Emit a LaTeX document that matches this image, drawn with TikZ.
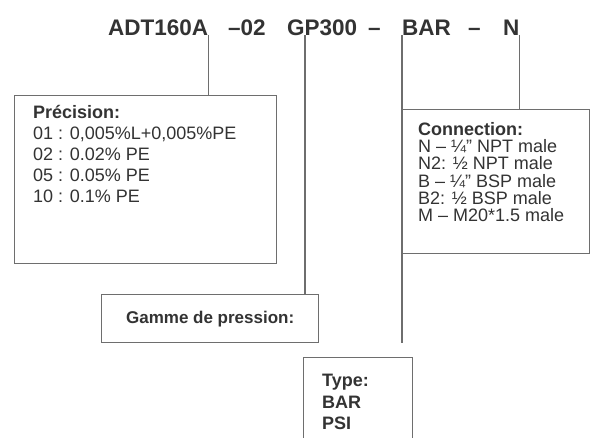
\documentclass[tikz,border=0pt]{standalone}
\usepackage{fontspec}
\setmainfont{Liberation Sans}
\usetikzlibrary{calc}

\definecolor{inkgray}{HTML}{333333}
\definecolor{rulegray}{HTML}{6E6E6E}

\tikzset{
  codepart/.style={anchor=base west, inner sep=0pt, text=inkgray,
    font=\fontsize{22.5}{27}\selectfont\bfseries},
  fieldbox/.style={draw=rulegray, line width=1.4pt, anchor=north west, inner sep=0pt},
  fieldtext/.style={anchor=north west, inner sep=0pt, align=left, text=inkgray},
  lead/.style={draw=rulegray, line width=1.4pt}
}

\begin{document}
\begin{tikzpicture}[x=1pt, y=-1pt]
\useasboundingbox (0,0) rectangle (592,437);
\clip (0,0) rectangle (592,437);
\fill[white] (0,0) rectangle (592,437);

% order code
\node[codepart] (adt) at (108,35) {ADT160A};
\node[codepart] (acc) at (228,35) {–02};
\node[codepart] (gp) at (287,35) {GP300};
\node[codepart] (dasha) at (368,35) {–};
\node[codepart] (bar) at (402,35) {BAR};
\node[codepart] (dashb) at (468,35) {–};
\node[codepart] (conn) at (503,35) {N};

% boxes
\node[fieldbox, minimum width=262pt, minimum height=168pt] (precbox) at (14,95) {};
\node[fieldbox, minimum width=187pt, minimum height=144pt] (connbox) at (402,109) {};
\node[fieldbox, minimum width=217pt, minimum height=48pt] (gammebox) at (101,294) {};
\node[fieldbox, minimum width=109pt, minimum height=100pt] (typebox) at (303,357) {};

\node[fieldtext, font=\fontsize{18}{21}\selectfont] (prectext) at (33,105)
  {\textbf{Précision:}\\01 : 0,005\%L+0,005\%PE\\02 : 0.02\% PE\\05 : 0.05\% PE\\10 : 0.1\% PE};
\node[fieldtext, font=\fontsize{18}{17.3}\selectfont] (conntext) at (418,122)
  {\textbf{Connection:}\\N – ¼" NPT male\\N2: ½ NPT male\\B – ¼'' BSP male\\B2: ½ BSP male\\M – M20*1.5 male};
\node[inner sep=0pt, text=inkgray, font=\fontsize{17}{20}\selectfont\bfseries] (gammetext)
  at (gammebox.center) {Gamme de pression:};
\node[fieldtext, font=\fontsize{18}{21.5}\selectfont\bfseries] (typetext) at (322,374)
  {Type:\\BAR\\PSI};

% leads
\coordinate (gpstem) at ($(gp.south west)+(18,0)$);
\coordinate (barend) at (402,343);
\draw[lead] (adt.south east) -- (adt.south east |- precbox.north);
\draw[lead] (gpstem) -- (gpstem |- gammebox.north);
\draw[lead] (bar.south west) -- (bar.south west |- barend);
\draw[lead] (conn.south east) -- (conn.south east |- connbox.north);
\end{tikzpicture}
\end{document}
